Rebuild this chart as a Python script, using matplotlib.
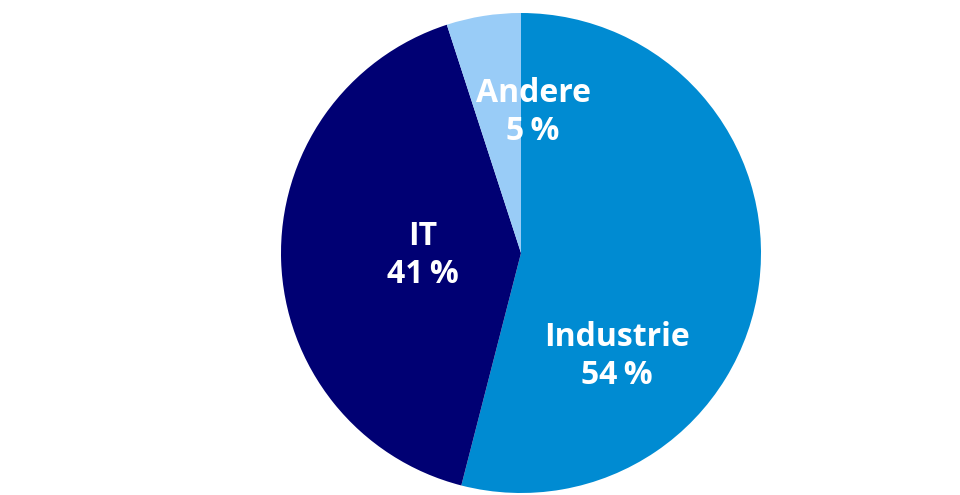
import matplotlib
matplotlib.use("Agg")
import matplotlib.pyplot as plt

categories = ["Industrie", "IT", "Andere"]
shares = [54, 41, 5]
colors = ["#008BD2", "#000073", "#99CCF7"]
label_pos = [(0.40, -0.43), (-0.41, -0.01), (0.05, 0.585)]

fig = plt.figure(figsize=(9.6, 4.95), dpi=100)
ax = fig.add_axes([281/960, 2/495, 480/960, 480/495])
ax.pie(shares, colors=colors, startangle=90, counterclock=False,
       wedgeprops=dict(linewidth=0))
ax.set_xlim(-1, 1)
ax.set_ylim(-1, 1)
ax.set_aspect("equal")
for name, val, (x, y) in zip(categories, shares, label_pos):
    ax.text(x, y, f"{name}\n{val}\u2009%", ha="center", va="center", color="white",
            fontsize=23, fontweight="bold", family=["Open Sans", "DejaVu Sans"],
            linespacing=1.2)
fig.savefig("out.png", dpi=100)
